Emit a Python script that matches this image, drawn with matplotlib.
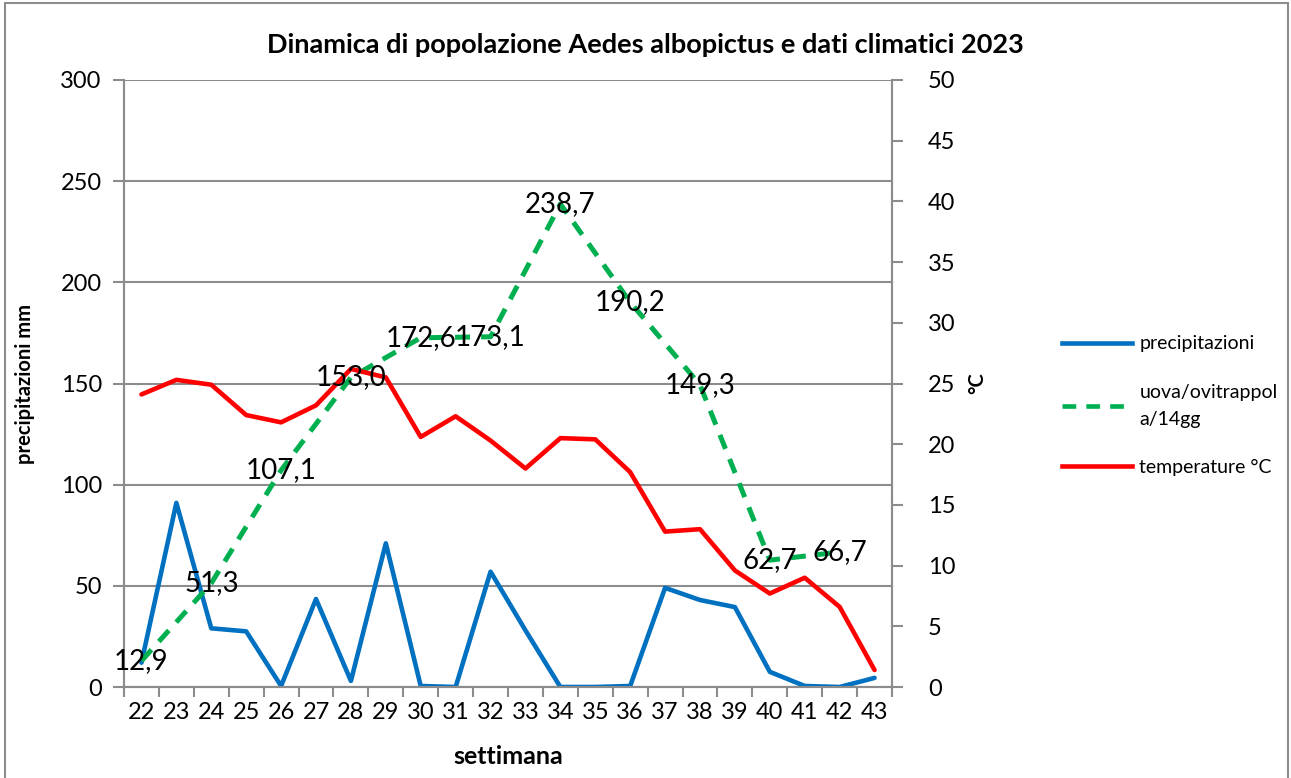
import matplotlib
matplotlib.use("Agg")
import matplotlib.pyplot as plt
from matplotlib.lines import Line2D

plt.rcParams['font.family'] = ['Lato', 'DejaVu Sans']

# settimane
weeks = list(range(22, 44))
# precipitazioni mm (asse sinistro)
precip = [12, 91, 29, 27.5, 0.5, 43.5, 3, 71, 0.5, 0, 57, 28, 0, 0, 0.5,
          49, 43, 39.5, 7.5, 0.5, 0, 4.5]
# uova/ovitrappola/14gg (asse sinistro), solo settimane pari
egg_weeks = [22, 24, 26, 28, 30, 32, 34, 36, 38, 40, 42]
eggs = [12.9, 51.3, 107.1, 153.0, 172.6, 173.1, 238.7, 190.2, 149.3, 62.7, 66.7]
# temperature °C (asse destro)
temp = [24.1, 25.3, 24.9, 22.4, 21.8, 23.2, 26.2, 25.5, 20.6, 22.3, 20.3,
        18.0, 20.5, 20.4, 17.7, 12.8, 13.0, 9.6, 7.7, 9.0, 6.6, 1.4]

BLUE = '#0070C0'
GREEN = '#00B050'
RED = '#FF0000'
GRID = '#8c8c8c'


def main():
    fig = plt.figure(figsize=(12.91, 7.78), dpi=100)
    ax = fig.add_axes([124 / 1291, 91 / 778, 768 / 1291, 607 / 778])
    ax2 = ax.twinx()

    ax.plot(weeks, precip, color=BLUE, lw=3.3, solid_joinstyle='round',
            solid_capstyle='round', zorder=3)
    ax.plot(egg_weeks, eggs, color=GREEN, lw=3.6, ls=(0, (3, 2.2)), zorder=3)
    ax2.plot(weeks, temp, color=RED, lw=3.3, solid_joinstyle='round',
             solid_capstyle='round', zorder=3)

    for w, v in zip(egg_weeks, eggs):
        ax2.text(w, v, f"{v:.1f}".replace('.', ','), transform=ax.transData,
                 ha='center', va='center', fontsize=20, zorder=5)

    ax.set_xlim(21.5, 43.5)
    ax.set_ylim(0, 300)
    ax2.set_ylim(0, 50)
    ax.set_yticks(range(0, 301, 50))
    ax2.set_yticks(range(0, 51, 5))
    ax.set_xticks(weeks)
    ax.set_xticks([w - 0.5 for w in weeks] + [43.5], minor=True)
    ax.tick_params(axis='x', which='major', length=0, pad=11, labelsize=17)
    ax.tick_params(axis='x', which='minor', length=7, color=GRID, width=1.5,
                   direction='out')
    ax.tick_params(axis='y', length=8, color=GRID, width=1.5, pad=8,
                   labelsize=17)
    ax2.tick_params(axis='y', length=8, color=GRID, width=1.5, pad=18,
                    labelsize=17)

    ax.grid(axis='y', color=GRID, lw=1.5)
    ax.set_axisbelow(True)
    for a in (ax, ax2):
        a.spines['top'].set_visible(False)
        for s in ('left', 'right', 'bottom'):
            a.spines[s].set_color(GRID)
            a.spines[s].set_linewidth(1.5)

    ax.set_xlabel('settimana', fontsize=18, fontweight='bold', labelpad=16)
    ax.set_ylabel('precipitazioni mm', fontsize=14.5, fontweight='bold',
                  labelpad=18)
    ax2.set_ylabel('°C', fontsize=14.5, fontweight='bold', rotation=90,
                   labelpad=8)
    fig.suptitle('Dinamica di popolazione Aedes albopictus e dati climatici 2023',
                 x=0.5, y=1 - 45 / 778, va='center', fontsize=19.5,
                 fontweight='bold')

    handles = [Line2D([], [], color=BLUE, lw=3.3),
               Line2D([], [], color=GREEN, lw=3.3, ls=(0, (3, 2.2))),
               Line2D([], [], color=RED, lw=3.3)]
    labels = ['precipitazioni', 'uova/ovitrappol\na/14gg', 'temperature °C']
    leg = fig.legend(handles, labels, loc='upper left',
                     bbox_to_anchor=(1044 / 1291, 1 - 318 / 778), frameon=False,
                     fontsize=14, handlelength=3.6, handletextpad=0.4,
                     labelspacing=1.6)
    for t in leg.get_texts():
        t.set_linespacing(1.75)

    fig.patches.append(plt.Rectangle((5 / 1291, -0.01), 1283 / 1291, 1.0 - 3 / 778 + 0.01,
                                     transform=fig.transFigure, fill=False,
                                     edgecolor=GRID, lw=1.5))

    fig.savefig('out.png', dpi=100)


if __name__ == "__main__":
    main()
